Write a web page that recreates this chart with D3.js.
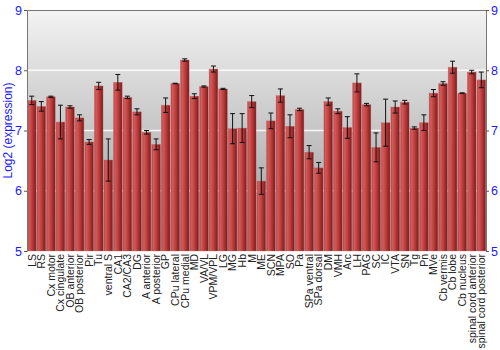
<!DOCTYPE html>
<html>
<head>
<meta charset="utf-8">
<script src="https://cdn.jsdelivr.net/npm/d3@7"></script>
<style>
  body { margin: 0; background: #fff; }
  text { font-family: "Liberation Sans", Arial, sans-serif; }
</style>
</head>
<body>
<svg id="chart" width="500" height="350"></svg>
<script>
const regions = ["LS", "RS", "Cx motor", "Cx cingulate", "OB anterior", "OB posterior", "Pir", "Tu",
  "ventral S", "CA1", "CA2/CA3", "DG", "A anterior", "A posterior", "GP", "CPu lateral", "CPu medial",
  "MD", "VA/VL", "VPM/VPL", "LG", "MG", "Hb", "M", "ME", "SCN", "MPA", "SO", "Pa", "SPa ventral",
  "SPa dorsal", "DM", "VMH", "Arc", "LH", "PAG", "SC", "IC", "VTA", "SN", "Tg", "Pn", "MVe",
  "Cb vermis", "Cb lobe", "Cb nucleus", "spinal cord anterior", "spinal cord posterior"];

const expression = [7.50, 7.40, 7.56, 7.14, 7.39, 7.21, 6.81, 7.74,
  6.51, 7.80, 7.55, 7.31, 6.97, 6.77, 7.42, 7.78, 8.17,
  7.57, 7.73, 8.02, 7.69, 7.03, 7.04, 7.48, 6.16, 7.16, 7.58, 7.07, 7.35, 6.64,
  6.38, 7.48, 7.32, 7.05, 7.79, 7.43, 6.72, 7.13, 7.39, 7.47, 7.04, 7.13, 7.62,
  7.78, 8.05, 7.62, 7.97, 7.84];

const stdErr = [0.07, 0.08, 0.01, 0.28, 0.02, 0.05, 0.04, 0.06,
  0.35, 0.13, 0.02, 0.05, 0.03, 0.09, 0.12, 0.005, 0.02,
  0.04, 0.01, 0.05, 0.01, 0.25, 0.24, 0.10, 0.22, 0.13, 0.11, 0.19, 0.02, 0.11,
  0.09, 0.06, 0.04, 0.18, 0.15, 0.02, 0.24, 0.39, 0.10, 0.03, 0.02, 0.13, 0.06,
  0.03, 0.10, 0.005, 0.03, 0.13];

const yTicks = [5, 6, 7, 8, 9];
const gridValues = [6, 7, 8];

const W = 500, H = 350;
const margin = { top: 10, right: 14, bottom: 99, left: 27 };

const svg = d3.select("#chart");
const defs = svg.append("defs");

// background gradient, light at top
const bg = defs.append("linearGradient").attr("id", "bg")
  .attr("x1", 0).attr("y1", 0).attr("x2", 0).attr("y2", 1);
bg.append("stop").attr("offset", "0%").attr("stop-color", "#f3f3f3");
bg.append("stop").attr("offset", "100%").attr("stop-color", "#989898");

// bar gradient, lighter on the left
const bg2 = defs.append("linearGradient").attr("id", "bar")
  .attr("x1", 0).attr("y1", 0).attr("x2", 1).attr("y2", 0);
bg2.append("stop").attr("offset", "0%").attr("stop-color", "#b84444");
bg2.append("stop").attr("offset", "20%").attr("stop-color", "#d45a5a");
bg2.append("stop").attr("offset", "55%").attr("stop-color", "#bb3c3c");
bg2.append("stop").attr("offset", "100%").attr("stop-color", "#7c1a1a");

const x = d3.scaleBand()
  .domain(regions)
  .range([margin.left, W - margin.right])
  .paddingInner(0.09)
  .paddingOuter(0.04);

const y = d3.scaleLinear()
  .domain([5, 9])
  .range([H - margin.bottom, margin.top]);

svg.append("rect")
  .attr("x", margin.left).attr("y", margin.top)
  .attr("width", W - margin.left - margin.right)
  .attr("height", H - margin.top - margin.bottom)
  .attr("fill", "url(#bg)");

svg.append("g").selectAll("line")
  .data(gridValues)
  .join("line")
  .attr("x1", margin.left).attr("x2", W - margin.right)
  .attr("y1", d => y(d)).attr("y2", d => y(d))
  .attr("stroke", "#fff").attr("stroke-opacity", 0.85).attr("stroke-width", 1.5);

const rows = regions.map((r, i) => ({ name: r, v: expression[i], e: stdErr[i] }));

svg.append("g").selectAll("rect")
  .data(rows)
  .join("rect")
  .attr("x", d => x(d.name))
  .attr("y", d => y(d.v))
  .attr("width", x.bandwidth())
  .attr("height", d => y(5) - y(d.v))
  .attr("fill", "url(#bar)")
  .attr("stroke", "#c86a6a")
  .attr("stroke-opacity", 0.5)
  .attr("stroke-width", 0.6);

const err = svg.append("g").attr("stroke", "#111").attr("stroke-width", 1);
rows.forEach(d => {
  const cx = x(d.name) + x.bandwidth() / 2;
  const lo = y(d.v - d.e), hi = y(d.v + d.e);
  err.append("line").attr("x1", cx).attr("x2", cx).attr("y1", lo).attr("y2", hi);
  err.append("line").attr("x1", cx - 2.5).attr("x2", cx + 2.5).attr("y1", lo).attr("y2", lo);
  err.append("line").attr("x1", cx - 2.5).attr("x2", cx + 2.5).attr("y1", hi).attr("y2", hi);
});

// frame
svg.append("line")
  .attr("x1", margin.left).attr("x2", W - margin.right)
  .attr("y1", margin.top + 0.5).attr("y2", margin.top + 0.5)
  .attr("stroke", "#777");

const leftAxis = svg.append("g")
  .attr("transform", `translate(${margin.left},0)`)
  .call(d3.axisLeft(y).tickValues(yTicks).tickFormat(d3.format("d")).tickSize(3).tickPadding(2));
const rightAxis = svg.append("g")
  .attr("transform", `translate(${W - margin.right},0)`)
  .call(d3.axisRight(y).tickValues(yTicks).tickFormat(d3.format("d")).tickSize(3).tickPadding(2));

[leftAxis, rightAxis].forEach(g => {
  g.select(".domain").attr("stroke", "#777");
  g.selectAll(".tick line").attr("stroke", "#555");
  g.selectAll(".tick text")
    .attr("fill", "#1a1aff")
    .style("font-size", "12.5px")
    .style("font-family", "'Liberation Sans', Arial, sans-serif");
});

svg.append("text")
  .attr("transform", `translate(12,${(margin.top + H - margin.bottom) / 2}) rotate(-90)`)
  .attr("text-anchor", "middle")
  .attr("fill", "#1a1aff")
  .style("font-size", "12px")
  .text("Log2 (expression)");

svg.append("g").selectAll("text")
  .data(regions)
  .join("text")
  .attr("transform", d => `translate(${x(d) + x.bandwidth() / 2 + 3.8},${H - margin.bottom + 3}) rotate(-90)`)
  .attr("text-anchor", "end")
  .attr("fill", "#222")
  .style("font-size", "10.5px")
  .text(d => d);
</script>
</body>
</html>
